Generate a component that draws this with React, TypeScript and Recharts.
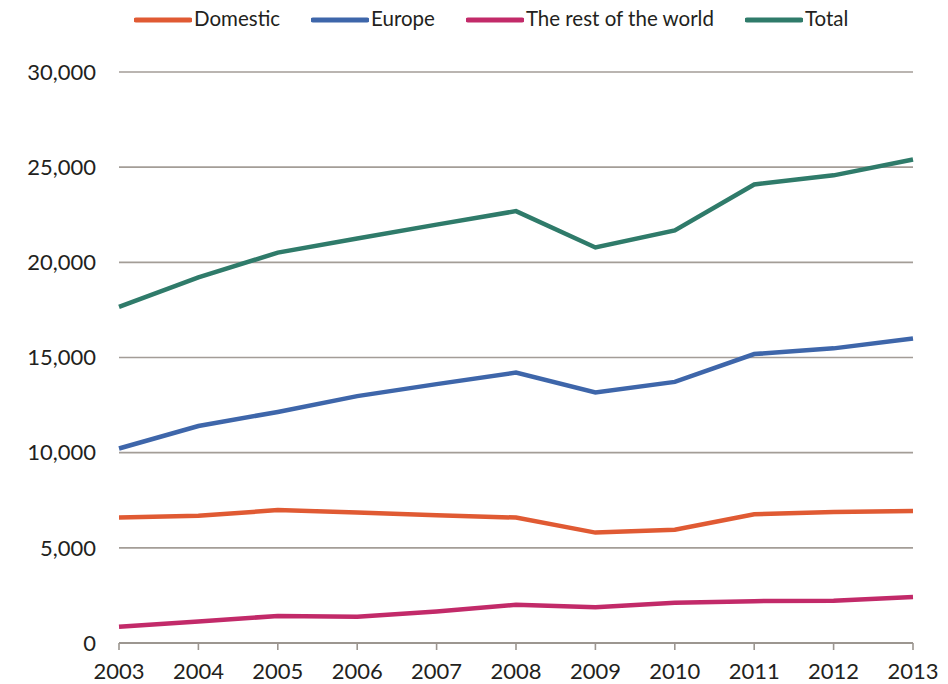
import React from "react";
import { LineChart, Line, XAxis, YAxis, CartesianGrid, Legend } from "recharts";

const years = ["2003", "2004", "2005", "2006", "2007", "2008", "2009", "2010", "2011", "2012", "2013"];
const domestic = [6600, 6680, 6985, 6850, 6710, 6590, 5800, 5950, 6760, 6880, 6930];
const europe = [10220, 11400, 12140, 12970, 13600, 14210, 13160, 13720, 15180, 15480, 16000];
const restOfWorld = [850, 1130, 1420, 1380, 1650, 2010, 1880, 2110, 2200, 2220, 2415];
const total = [17660, 19210, 20510, 21250, 21980, 22690, 20780, 21680, 24090, 24570, 25400];
const yTicks = [0, 5000, 10000, 15000, 20000, 25000, 30000];

const seriesDefs = [
  { key: "domestic", name: "Domestic", color: "#e05a33" },
  { key: "europe", name: "Europe", color: "#3e66aa" },
  { key: "rest", name: "The rest of the world", color: "#c22a69" },
  { key: "total", name: "Total", color: "#2f7b6a" },
];

const data = years.map((y, i) => ({
  year: y,
  domestic: domestic[i],
  europe: europe[i],
  rest: restOfWorld[i],
  total: total[i],
}));

const FONT = "Lato, 'Open Sans', sans-serif";

const renderLegend = () => (
  <div style={{ height: 68, display: "flex", alignItems: "flex-start" }}>
    {seriesDefs.map((s, i) => (
      <div
        key={s.key}
        style={{
          display: "flex",
          alignItems: "center",
          marginRight: i < seriesDefs.length - 1 ? 31 : 0,
          height: 28,
        }}
      >
        <svg width={58} height={10} style={{ display: "block", marginTop: 4 }}>
          <line x1={2} y1={5} x2={56} y2={5} stroke={s.color} strokeWidth={5} strokeLinecap="round" />
        </svg>
        <span
          style={{
            fontFamily: FONT,
            fontSize: 20.5,
            color: "#231f20",
            marginLeft: 2,
            whiteSpace: "nowrap",
            lineHeight: "28px",
          }}
        >
          {s.name}
        </span>
      </div>
    ))}
  </div>
);

export default function App() {
  return (
    <div style={{ position: "fixed", left: 0, top: 0, background: "#fff" }}>
      <LineChart
        width={948}
        height={684}
        data={data}
        margin={{ top: 4, right: 35, left: 0, bottom: 0 }}
      >
        <CartesianGrid vertical={false} stroke="#a39d97" strokeWidth={1.6} />
        <XAxis
          dataKey="year"
          axisLine={{ stroke: "#9c9690", strokeWidth: 2 }}
          tickLine={{ stroke: "#9c9690", strokeWidth: 1.6 }}
          tickSize={7}
          tickMargin={13}
          height={41}
          interval={0}
          tick={{ fill: "#231f20", fontSize: 22, fontFamily: FONT }}
        />
        <YAxis
          width={119}
          domain={[0, 30000]}
          ticks={yTicks}
          axisLine={false}
          tickLine={false}
          tickSize={6}
          tickMargin={17}
          tickFormatter={(v: number) => v.toLocaleString("en-US")}
          tick={{ fill: "#231f20", fontSize: 22, fontFamily: FONT }}
        />
        <Legend
          verticalAlign="top"
          align="left"
          content={renderLegend}
          wrapperStyle={{ left: 134, top: 4, width: 800 }}
        />
        {seriesDefs.map((s) => (
          <Line
            key={s.key}
            type="linear"
            dataKey={s.key}
            name={s.name}
            stroke={s.color}
            strokeWidth={4.5}
            dot={false}
            activeDot={false}
            isAnimationActive={false}
          />
        ))}
      </LineChart>
    </div>
  );
}
